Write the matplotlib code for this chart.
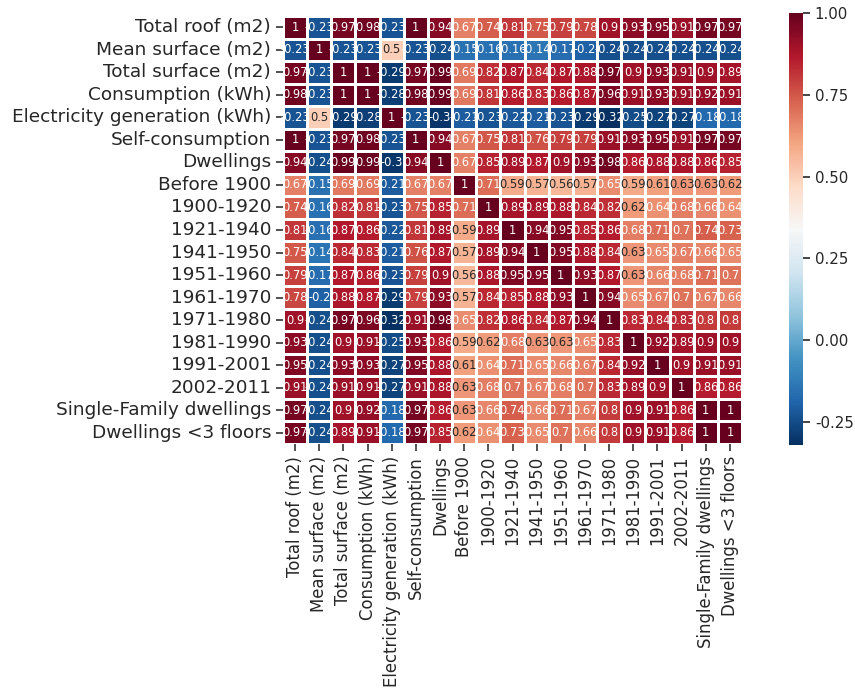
import numpy as np
import matplotlib
matplotlib.use("Agg")
import matplotlib.pyplot as plt
import seaborn as sns

labels = [
    "Total roof (m2)", "Mean surface (m2)", "Total surface (m2)", "Consumption (kWh)",
    "Electricity generation (kWh)", "Self-consumption", "Dwellings", "Before 1900",
    "1900-1920", "1921-1940", "1941-1950", "1951-1960", "1961-1970", "1971-1980",
    "1981-1990", "1991-2001", "2002-2011", "Single-Family dwellings", "Dwellings <3 floors",
]

corr_rows = [
    [1, -0.23, 0.97, 0.98, -0.23, 1, 0.94, 0.67, 0.74, 0.81, 0.75, 0.79, 0.78, 0.9, 0.93, 0.95, 0.91, 0.97, 0.97],
    [-0.23, 1, -0.23, -0.23, 0.5, -0.23, -0.24, -0.15, -0.16, -0.16, -0.14, -0.17, -0.2, -0.24, -0.24, -0.24, -0.24, -0.24, -0.24],
    [0.97, -0.23, 1, 1, -0.29, 0.97, 0.99, 0.69, 0.82, 0.87, 0.84, 0.87, 0.88, 0.97, 0.9, 0.93, 0.91, 0.9, 0.89],
    [0.98, -0.23, 1, 1, -0.28, 0.98, 0.99, 0.69, 0.81, 0.86, 0.83, 0.86, 0.87, 0.96, 0.91, 0.93, 0.91, 0.92, 0.91],
    [-0.23, 0.5, -0.29, -0.28, 1, -0.23, -0.3, -0.21, -0.23, -0.22, -0.21, -0.23, -0.29, -0.32, -0.25, -0.27, -0.27, -0.18, -0.18],
    [1, -0.23, 0.97, 0.98, -0.23, 1, 0.94, 0.67, 0.75, 0.81, 0.76, 0.79, 0.79, 0.91, 0.93, 0.95, 0.91, 0.97, 0.97],
    [0.94, -0.24, 0.99, 0.99, -0.3, 0.94, 1, 0.67, 0.85, 0.89, 0.87, 0.9, 0.93, 0.98, 0.86, 0.88, 0.88, 0.86, 0.85],
    [0.67, -0.15, 0.69, 0.69, -0.21, 0.67, 0.67, 1, 0.71, 0.59, 0.57, 0.56, 0.57, 0.65, 0.59, 0.61, 0.63, 0.63, 0.62],
    [0.74, -0.16, 0.82, 0.81, -0.23, 0.75, 0.85, 0.71, 1, 0.89, 0.89, 0.88, 0.84, 0.82, 0.62, 0.64, 0.68, 0.66, 0.64],
    [0.81, -0.16, 0.87, 0.86, -0.22, 0.81, 0.89, 0.59, 0.89, 1, 0.94, 0.95, 0.85, 0.86, 0.68, 0.71, 0.7, 0.74, 0.73],
    [0.75, -0.14, 0.84, 0.83, -0.21, 0.76, 0.87, 0.57, 0.89, 0.94, 1, 0.95, 0.88, 0.84, 0.63, 0.65, 0.67, 0.66, 0.65],
    [0.79, -0.17, 0.87, 0.86, -0.23, 0.79, 0.9, 0.56, 0.88, 0.95, 0.95, 1, 0.93, 0.87, 0.63, 0.66, 0.68, 0.71, 0.7],
    [0.78, -0.2, 0.88, 0.87, -0.29, 0.79, 0.93, 0.57, 0.84, 0.85, 0.88, 0.93, 1, 0.94, 0.65, 0.67, 0.7, 0.67, 0.66],
    [0.9, -0.24, 0.97, 0.96, -0.32, 0.91, 0.98, 0.65, 0.82, 0.86, 0.84, 0.87, 0.94, 1, 0.83, 0.84, 0.83, 0.8, 0.8],
    [0.93, -0.24, 0.9, 0.91, -0.25, 0.93, 0.86, 0.59, 0.62, 0.68, 0.63, 0.63, 0.65, 0.83, 1, 0.92, 0.89, 0.9, 0.9],
    [0.95, -0.24, 0.93, 0.93, -0.27, 0.95, 0.88, 0.61, 0.64, 0.71, 0.65, 0.66, 0.67, 0.84, 0.92, 1, 0.9, 0.91, 0.91],
    [0.91, -0.24, 0.91, 0.91, -0.27, 0.91, 0.88, 0.63, 0.68, 0.7, 0.67, 0.68, 0.7, 0.83, 0.89, 0.9, 1, 0.86, 0.86],
    [0.97, -0.24, 0.9, 0.92, -0.18, 0.97, 0.86, 0.63, 0.66, 0.74, 0.66, 0.71, 0.67, 0.8, 0.9, 0.91, 0.86, 1, 1],
    [0.97, -0.24, 0.89, 0.91, -0.18, 0.97, 0.85, 0.62, 0.64, 0.73, 0.65, 0.7, 0.66, 0.8, 0.9, 0.91, 0.86, 1, 1],
]

colorbar_ticks = [-0.25, 0.0, 0.25, 0.5, 0.75, 1.0]
colorbar_labels = ["-0.25", "0.00", "0.25", "0.50", "0.75", "1.00"]

sns.set_style("ticks")
plt.rcParams["font.family"] = ["DejaVu Sans"]

corr = np.array(corr_rows, dtype=float)

fig = plt.figure(figsize=(8.55, 6.91), dpi=100)
ax = fig.add_axes([283 / 855, 1 - 444 / 691, (742 - 283) / 855, (444 - 16) / 691])
cax = fig.add_axes([789 / 855, 1 - 445 / 691, 14 / 855, (445 - 13) / 691])

sns.heatmap(
    corr, ax=ax, cbar_ax=cax, cmap="RdBu_r", annot=True, fmt=".2g",
    annot_kws={"fontsize": 8.3}, linewidths=1, linecolor="white",
    xticklabels=labels, yticklabels=labels,
)

ax.tick_params(axis="both", length=5, width=1.2, color="#333333")
ax.set_xticklabels(labels, rotation=90, fontsize=11.9)
ax.set_yticklabels(labels, rotation=0, fontsize=13.3)

cax.set_yticks(colorbar_ticks)
cax.set_yticklabels(colorbar_labels)
cax.tick_params(labelsize=10.8, length=5, width=1.2)
for s in cax.spines.values():
    s.set_visible(False)

fig.savefig("out.png", dpi=100)
